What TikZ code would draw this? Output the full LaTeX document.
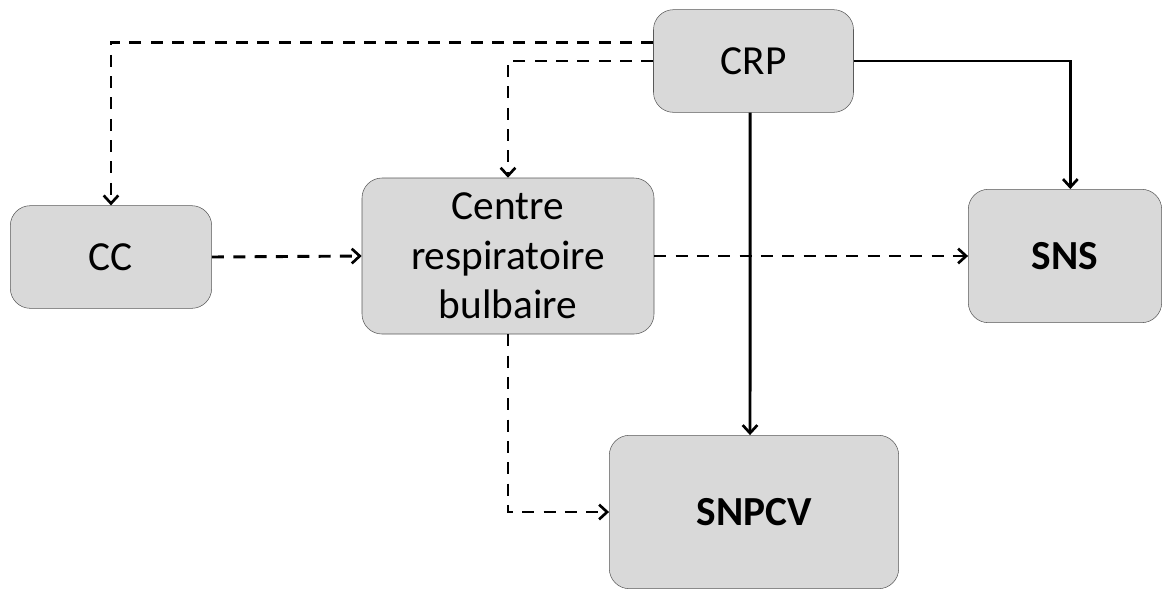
\documentclass[tikz,border=0pt]{standalone}
\usepackage{fontspec}
\setmainfont{Carlito}
\usetikzlibrary{arrows.meta}
\tikzset{
	box/.style={draw=black!65, fill=black!15, rounded corners=15pt, align=center, font=\fontsize{31}{37}\selectfont, inner sep=0pt},
	link/.style={line width=2.2pt, -{Straight Barb[length=6pt,width=11pt,line width=2pt]}},
	dlink/.style={link, dash pattern=on 9pt off 7pt},
}
\begin{document}
\begin{tikzpicture}[x=0.75pt,y=-0.75pt]
	\useasboundingbox (0,0) rectangle (1163,590);
	\node [box, minimum width=150pt, minimum height=77pt] (CRP) at (753.5,61) {CRP};
	\node [box, minimum width=151pt, minimum height=77pt] (CC) at (111,257) {CC};
	\node [box, minimum width=219pt, minimum height=117pt] (CRB) at (508,256) {Centre\\respiratoire\\bulbaire};
	\node [box, minimum width=145pt, minimum height=100pt, font=\fontsize{31}{37}\selectfont\bfseries] (SNS) at (1065,256) {SNS};
	\node [box, minimum width=217pt, minimum height=115pt, font=\fontsize{31}{37}\selectfont\bfseries] (SNPCV) at (754,512) {SNPCV};
	\draw [dlink] ([yshift=14pt]CRP.west) -| (CC.north);
	\draw [dlink] (CRP.west) -| (CRB.north);
	\draw [link] (CRP.east) -| ([xshift=4pt]SNS.north);
	\draw [link] ([xshift=-2.5pt]CRP.south) -- ([xshift=-3pt]SNPCV.north);
	\draw [dlink] (CC.east) -- (CRB.west);
	\draw [dlink] (CRB.east) -- (SNS.west);
	\draw [dlink] (CRB.south) |- (SNPCV.west);
\end{tikzpicture}
\end{document}
